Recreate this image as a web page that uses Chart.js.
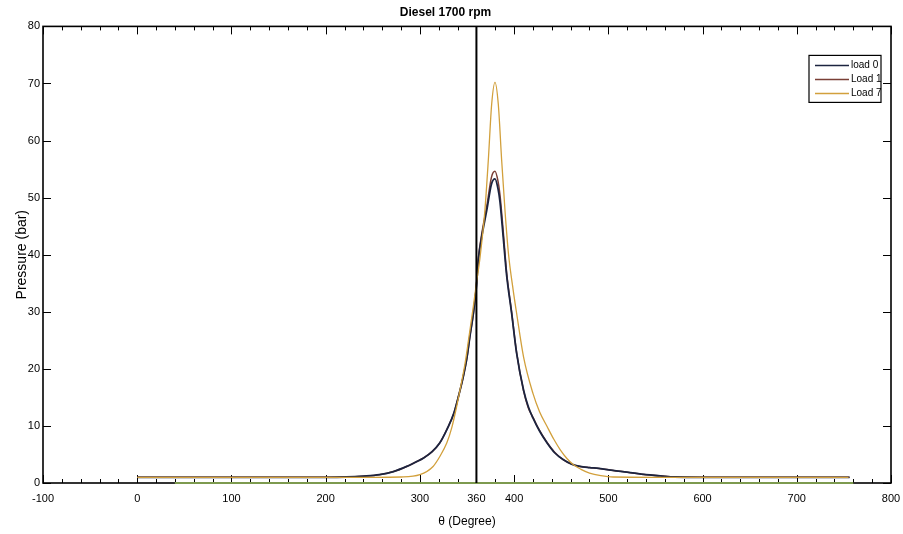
<!DOCTYPE html>
<html>
<head>
<meta charset="utf-8">
<script src="https://cdn.jsdelivr.net/npm/chart.js@4.4.1/dist/chart.umd.min.js"></script>
<style>
    body { margin: 0; background: #fff; }
    #contenedor { width: 903px; height: 534px; }
</style>
</head>
<body>
<div id="contenedor"><canvas id="canvaPresion" width="903" height="534"></canvas></div>
<script>
// datos (angulo en grados, presion en bar)
const angulosCarga0 = [0, 50, 100, 150, 200, 222, 240, 257, 272, 286, 296, 304, 313, 321, 329, 336, 341, 346, 350, 353, 357, 360, 362, 365.6, 371, 376, 379.7, 383, 385, 388.5, 392, 397.4, 402.7, 410, 415, 420, 427, 435, 443, 452, 461, 470, 480, 490, 505, 520, 540, 555, 570, 600, 650, 700, 756];
const presionCarga0 = [1, 1, 1, 1, 1, 1.05, 1.2, 1.45, 2, 2.9, 3.7, 4.4, 5.5, 7, 9.5, 12.2, 15.2, 18.6, 22, 25.6, 30, 34.5, 39, 43.1, 47.8, 52.4, 53.3, 51.5, 49.3, 43, 36.5, 29.7, 22.7, 16.3, 13.4, 11.4, 9.1, 7, 5.3, 4.1, 3.3, 2.9, 2.7, 2.55, 2.2, 1.9, 1.45, 1.25, 1.05, 1, 1, 1, 1];

const angulosCarga1 = [0, 50, 100, 150, 200, 222, 240, 257, 272, 286, 296, 304, 313, 321, 329, 336, 341, 346, 350, 353, 357, 360, 362, 365.6, 371, 376, 379.7, 383, 385, 388.5, 392, 397.4, 402.7, 410, 415, 420, 425, 435, 443, 452, 461, 470, 480, 490, 505, 520, 540, 555, 570, 600, 650, 700, 756];
const presionCarga1 = [1, 1, 1, 1, 1, 1.05, 1.2, 1.45, 2, 2.9, 3.7, 4.4, 5.5, 7, 9.5, 12.2, 15.2, 18.6, 22, 25.6, 30, 34.6, 39.3, 43.6, 48.5, 53.6, 54.6, 52.8, 50.5, 44, 37, 29.9, 22.8, 16.2, 13.2, 11.5, 9.8, 7.1, 5.4, 4.1, 3.3, 2.9, 2.7, 2.55, 2.2, 1.9, 1.45, 1.25, 1.05, 1, 1, 1, 1];

const angulosCarga7 = [0, 50, 100, 150, 200, 250, 280, 300, 314, 321, 328.5, 334, 339, 344, 348, 352, 356.7, 360, 363.8, 369, 372.6, 376.2, 379.7, 383.2, 386.8, 390.3, 394, 399, 402.7, 410, 420, 427, 435, 442, 449, 456, 463, 471, 480, 492, 505, 550, 600, 650, 700, 755];
const presionCarga7 = [1, 1, 1, 1, 1, 1, 1.05, 1.45, 2.9, 4.6, 7, 9.8, 13.4, 17.5, 21, 25.5, 30.9, 35, 39.5, 47.8, 56.5, 66.4, 70.2, 66.4, 56.5, 47.8, 40.2, 33.8, 29.7, 22.1, 15.7, 12.5, 9.9, 7.7, 5.8, 4.3, 3.2, 2.4, 1.75, 1.3, 1.05, 1, 1, 1, 1, 1];

// linea vertical del PMS y linea verde en cero
const anguloPMS = [360, 360];
const presionPMS = [0, 80];
const angulosCero = [40, 760];
const presionCero = [0, 0];

const ticksEjeX = [-100, 0, 100, 200, 300, 360, 400, 500, 600, 700, 800];

const fuente = 'Arial, "Liberation Sans", sans-serif';

function armarPuntos(xs, ys) {
    return xs.map((x, i) => ({ x: x, y: ys[i] }));
}

const seriesLeyenda = [
    { texto: "load 0", color: "#1c2440" },
    { texto: "Load 1", color: "#7a3f36" },
    { texto: "Load 7", color: "#d2a03c" }
];

// marco del grafico con las marcas hacia adentro (estilo matlab)
const pluginMarco = {
    id: 'marco',
    beforeDatasetsDraw(chart) {
        const ctx = chart.ctx;
        const area = chart.chartArea;
        const ejeX = chart.scales.x;
        const ejeY = chart.scales.y;
        ctx.save();
        ctx.strokeStyle = '#000';
        ctx.lineWidth = 1;
        for (let v = -100; v <= 800; v += 20) {
            const px = Math.round(ejeX.getPixelForValue(v)) + 0.5;
            const largo = (v % 100 === 0) ? 8 : 4;
            ctx.beginPath();
            ctx.moveTo(px, area.bottom);
            ctx.lineTo(px, area.bottom - largo);
            ctx.moveTo(px, area.top);
            ctx.lineTo(px, area.top + largo);
            ctx.stroke();
        }
        for (let v = 0; v <= 80; v += 10) {
            const py = Math.round(ejeY.getPixelForValue(v)) + 0.5;
            ctx.beginPath();
            ctx.moveTo(area.left, py);
            ctx.lineTo(area.left + 8, py);
            ctx.moveTo(area.right, py);
            ctx.lineTo(area.right - 8, py);
            ctx.stroke();
        }
        ctx.lineWidth = 1.6;
        ctx.strokeRect(area.left, area.top, area.right - area.left, area.bottom - area.top);
        ctx.restore();
    }
};

// leyenda dentro del area, arriba a la derecha
const pluginLeyenda = {
    id: 'leyendaCaja',
    afterDraw(chart) {
        const ctx = chart.ctx;
        const area = chart.chartArea;
        const ancho = 72, alto = 47;
        const izq = area.right - 10 - ancho;
        const arriba = area.top + 29;
        ctx.save();
        ctx.fillStyle = '#fff';
        ctx.fillRect(izq, arriba, ancho, alto);
        ctx.strokeStyle = '#000';
        ctx.lineWidth = 1.2;
        ctx.strokeRect(izq, arriba, ancho, alto);
        ctx.font = '10px ' + fuente;
        ctx.textBaseline = 'middle';
        seriesLeyenda.forEach((serie, i) => {
            const y = arriba + 10 + i * 14;
            ctx.strokeStyle = serie.color;
            ctx.lineWidth = 1.5;
            ctx.beginPath();
            ctx.moveTo(izq + 6, y);
            ctx.lineTo(izq + 40, y);
            ctx.stroke();
            ctx.fillStyle = '#000';
            ctx.fillText(serie.texto, izq + 42, y);
        });
        ctx.restore();
    }
};

document.addEventListener("DOMContentLoaded", function() {
    new Chart(document.getElementById('canvaPresion'), {
        type: 'line',
        data: {
            datasets: [{
                label: "load 0",
                data: armarPuntos(angulosCarga0, presionCarga0),
                borderColor: seriesLeyenda[0].color,
                borderWidth: 1.8,
                order: 2
            }, {
                label: "Load 1",
                data: armarPuntos(angulosCarga1, presionCarga1),
                borderColor: seriesLeyenda[1].color,
                borderWidth: 1.5,
                order: 3
            }, {
                label: "Load 7",
                data: armarPuntos(angulosCarga7, presionCarga7),
                borderColor: seriesLeyenda[2].color,
                borderWidth: 1.3,
                order: 1
            }, {
                label: "PMS",
                data: armarPuntos(anguloPMS, presionPMS),
                borderColor: '#000',
                borderWidth: 2,
                order: 0
            }, {
                label: "cero",
                data: armarPuntos(angulosCero, presionCero),
                borderColor: '#7d9a4f',
                borderWidth: 2,
                clip: false,
                order: 4
            }]
        },
        options: {
            responsive: false,
            animation: false,
            layout: { padding: { left: 0, right: 12, top: 0, bottom: 0 } },
            elements: {
                point: { radius: 0 },
                line: { cubicInterpolationMode: 'monotone', fill: false }
            },
            scales: {
                x: {
                    type: 'linear',
                    min: -100,
                    max: 800,
                    afterBuildTicks: escala => {
                        escala.ticks = ticksEjeX.map(v => ({ value: v }));
                    },
                    afterFit: escala => {
                        escala.height = 51;
                        escala.paddingLeft = 0;
                        escala.paddingRight = 0;
                    },
                    grid: { display: false, drawTicks: false, tickLength: 0 },
                    border: { display: false },
                    ticks: {
                        color: '#000',
                        font: { family: fuente, size: 11 },
                        padding: 9,
                        maxRotation: 0,
                        autoSkip: false
                    },
                    title: {
                        display: true,
                        text: 'θ (Degree)',
                        color: '#000',
                        font: { family: fuente, size: 12 },
                        padding: { top: 0, bottom: 5 }
                    }
                },
                y: {
                    min: 0,
                    max: 80,
                    afterFit: escala => { escala.width = 43; },
                    grid: { display: false, drawTicks: false, tickLength: 0 },
                    border: { display: false },
                    ticks: {
                        stepSize: 10,
                        color: '#000',
                        font: { family: fuente, size: 11 },
                        padding: 3
                    },
                    title: {
                        display: true,
                        text: 'Pressure (bar)',
                        color: '#000',
                        font: { family: fuente, size: 14 },
                        padding: { top: 14, bottom: 0 }
                    }
                }
            },
            plugins: {
                legend: { display: false },
                tooltip: { enabled: false },
                title: {
                    display: true,
                    text: 'Diesel 1700 rpm',
                    color: '#000',
                    font: { family: fuente, size: 12, weight: 'bold' },
                    padding: { top: 5, bottom: 7 }
                }
            }
        },
        plugins: [pluginMarco, pluginLeyenda]
    });
});
</script>
</body>
</html>
